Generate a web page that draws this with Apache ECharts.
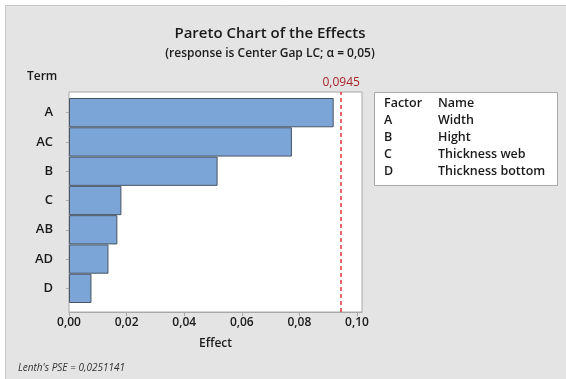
<!DOCTYPE html>
<html>
<head>
<meta charset="utf-8">
<script src="https://cdn.jsdelivr.net/npm/echarts@6/dist/echarts.min.js"></script>
<style>
  html, body { margin: 0; padding: 0; background: #ffffff; }
  #chart { width: 566px; height: 379px; }
</style>
</head>
<body>
<div id="chart"></div>
<script>
// Terms, ordered from largest to smallest absolute effect
const terms = ['A', 'AC', 'B', 'C', 'AB', 'AD', 'D'];
const effects = [0.0919, 0.0774, 0.0516, 0.0182, 0.0168, 0.0137, 0.0078];
const criticalValue = 0.0945;
const criticalLabel = '0,0945';
const xTicks = [0, 0.02, 0.04, 0.06, 0.08, 0.10];
const factorCodes = ['A', 'B', 'C', 'D'];
const factorNames = ['Width', 'Hight', 'Thickness web', 'Thickness bottom'];
const pseText = "Lenth's PSE = 0,0251141";

const FONT = '"Open Sans", "Noto Sans", sans-serif';
const INK = '#1a1a1a';
const fmt = v => v.toFixed(2).replace('.', ',');

const chart = echarts.init(document.getElementById('chart'), null, { renderer: 'canvas' });

// The white frame runs a little past the last tick (0.10 sits 288 px from the origin)
const plotLeft = 69, frameWidth = 293, tickSpan = 288;
const frameMax = xTicks[xTicks.length - 1] * frameWidth / tickSpan;

// Factor / name key
const key = [];
const rowY0 = 103, rowStep = 17;
const keyRow = (i, a, b) => {
  const y = rowY0 + rowStep * i - 6;
  key.push({ type: 'text', z: 5, left: 384, top: y, style: { text: a, font: '600 12.5px ' + FONT, fill: INK } });
  key.push({ type: 'text', z: 5, left: 438, top: y, style: { text: b, font: '600 12.5px ' + FONT, fill: INK } });
};
keyRow(0, 'Factor', 'Name');
factorCodes.forEach((c, i) => keyRow(i + 1, c, factorNames[i]));

const option = {
  backgroundColor: '#ffffff',
  animation: false,
  graphic: [
    { type: 'rect', z: -10, shape: { x: 5.5, y: 5.5, width: 570, height: 380 },
      style: { fill: '#e4e4e4', stroke: '#c8c8c8', lineWidth: 1 } },
    { type: 'rect', z: 1, shape: { x: 374.5, y: 92.5, width: 183, height: 93 },
      style: { fill: '#ffffff', stroke: '#a8a8a8', lineWidth: 1 } },
    { type: 'text', z: 5, left: 27, top: 71, style: { text: 'Term', font: '600 12px ' + FONT, fill: INK } },
    { type: 'text', z: 5, left: 18, top: 363, style: { text: pseText, font: 'italic 10px ' + FONT, fill: '#333333' } }
  ].concat(key),
  title: [
    { text: 'Pareto Chart of the Effects', left: 265, top: 21, textAlign: 'center',
      textStyle: { fontFamily: FONT, fontSize: 15, fontWeight: 600, color: INK } },
    { text: '(response is Center Gap LC; α = 0,05)', left: 265, top: 43, textAlign: 'center',
      textStyle: { fontFamily: FONT, fontSize: 12, fontWeight: 600, color: INK } }
  ],
  grid: [
    // white plotting frame carrying the effect axis and reference line
    { left: plotLeft, top: 92, width: frameWidth, height: 220, show: true,
      backgroundColor: '#ffffff', borderColor: '#a8a8a8', borderWidth: 1, z: 0 },
    // bar region
    { left: plotLeft, top: 98, width: frameWidth, height: 205, z: 2 }
  ],
  xAxis: [
    { gridIndex: 0, type: 'value', min: 0, max: frameMax,
      name: 'Effect', nameLocation: 'middle', nameGap: 26,
      nameTextStyle: { fontFamily: FONT, fontSize: 12, fontWeight: 600, color: INK },
      axisLine: { show: true, lineStyle: { color: '#a8a8a8' } },
      axisTick: { show: true, length: 4, customValues: xTicks, lineStyle: { color: '#a8a8a8' } },
      axisLabel: { customValues: xTicks, fontFamily: FONT, fontSize: 12, fontWeight: 600, color: INK,
        margin: 5, formatter: fmt },
      splitLine: { show: false } },
    { gridIndex: 1, type: 'value', min: 0, max: frameMax, show: false, splitLine: { show: false } }
  ],
  yAxis: [
    { gridIndex: 0, type: 'value', min: 0, max: 1, show: false, splitLine: { show: false } },
    { gridIndex: 1, type: 'category', data: terms, inverse: true,
      axisLine: { show: false },
      axisTick: { show: true, alignWithLabel: true, length: 3, lineStyle: { color: '#a8a8a8' } },
      axisLabel: { fontFamily: FONT, fontSize: 13, fontWeight: 600, color: INK, margin: 16 },
      splitLine: { show: false } }
  ],
  series: [
    { type: 'bar', xAxisIndex: 1, yAxisIndex: 1, data: effects, barWidth: '100%', z: 3,
      itemStyle: { color: '#7ba5d7', borderColor: '#4a5563', borderWidth: 1 } },
    { type: 'line', xAxisIndex: 0, yAxisIndex: 0, data: [], z: 4,
      markLine: { silent: true, symbol: 'none', precision: 4,
        lineStyle: { color: '#e0363a', type: [4, 3], width: 1.5 },
        label: { show: true, position: 'end', formatter: criticalLabel, distance: 3,
          fontFamily: FONT, fontSize: 12, color: '#a8232b' },
        data: [{ xAxis: criticalValue }] } }
  ]
};
chart.setOption(option);
</script>
</body>
</html>
